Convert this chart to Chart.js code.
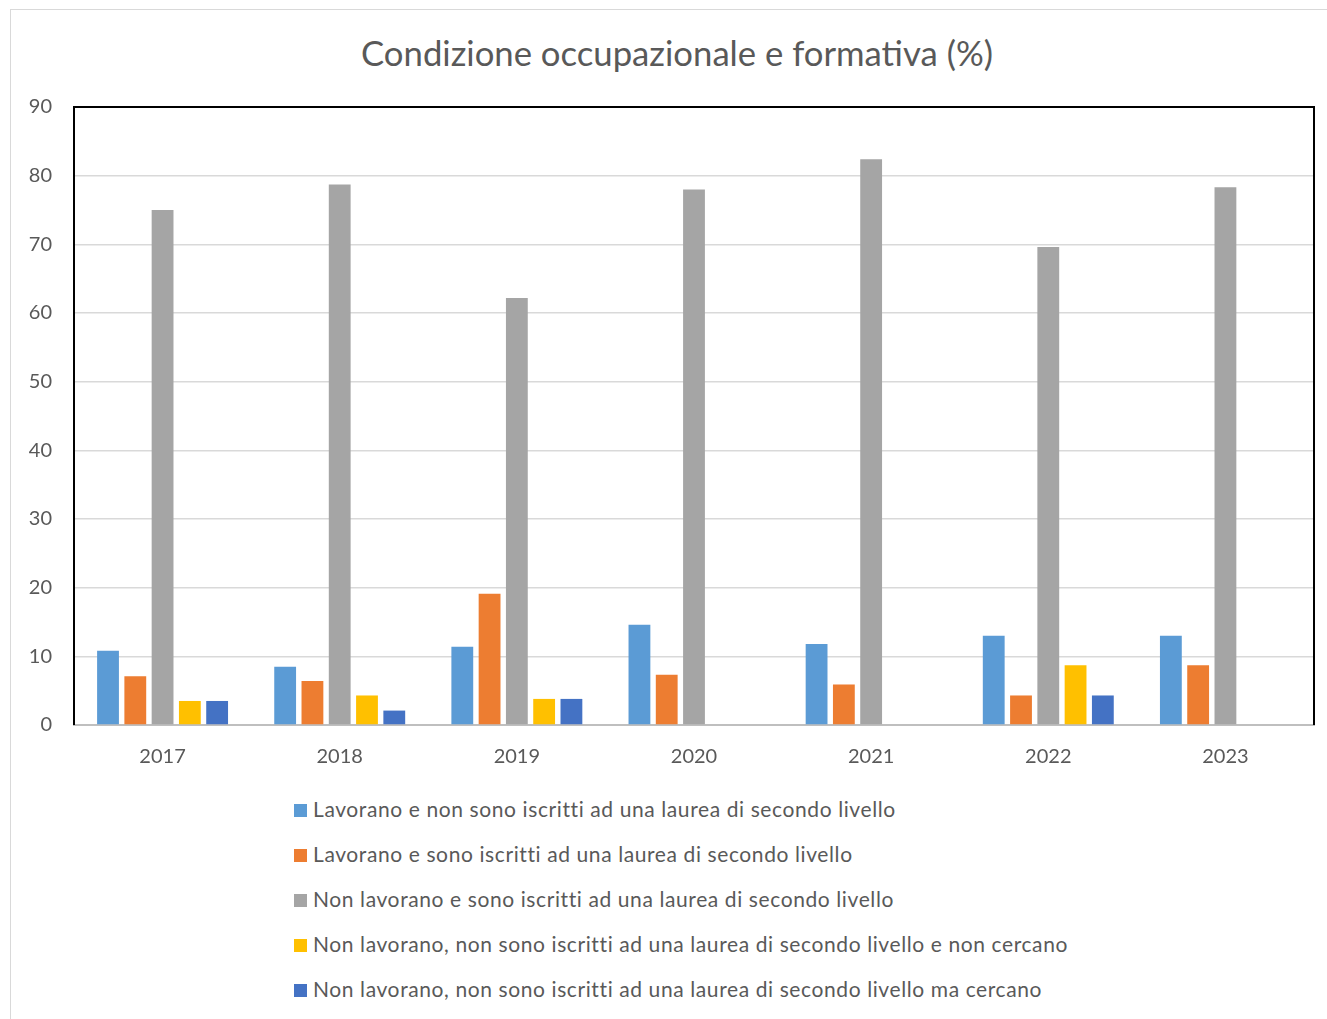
<!DOCTYPE html>
<html>
<head>
<meta charset="utf-8">
<script src="https://cdn.jsdelivr.net/npm/chart.js@4.4.0/dist/chart.umd.min.js"></script>
<style>
  body { margin: 0; background: #fff; }
  #wrap { position: relative; width: 1327px; height: 1019px; overflow: hidden; }
  #frame { position: absolute; left: 10px; top: 9px; width: 1330px; height: 1020px; border: 1px solid #d9d9d9; }
  #title { position: absolute; left: 0; top: 32px; width: 1354px; text-align: center; font-family: Lato, sans-serif; font-size: 34.7px; line-height: 42px; color: #595959; white-space: nowrap; }
  #chartBox { position: absolute; left: 0; top: 0; width: 1327px; height: 790px; }
  #legend { position: absolute; left: 294px; top: 797px; font-family: Lato, sans-serif; font-size: 21px; letter-spacing: 0.6px; color: #595959; }
  #legend div { height: 45px; line-height: 24px; white-space: nowrap; }
  #legend span.box { display: inline-block; width: 13px; height: 13px; margin-right: 6px; vertical-align: 0px; }
</style>
</head>
<body>
<div id="wrap">
  <div id="frame"></div>
  <div id="title">Condizione occupazionale e formativa (%)</div>
  <div id="chartBox"><canvas id="barChart"></canvas></div>
  <div id="legend"></div>
</div>
<script>
// Data
const years = ['2017', '2018', '2019', '2020', '2021', '2022', '2023'];
const seriesNames = [
    'Lavorano e non sono iscritti ad una laurea di secondo livello',
    'Lavorano e sono iscritti ad una laurea di secondo livello',
    'Non lavorano e sono iscritti ad una laurea di secondo livello',
    'Non lavorano, non sono iscritti ad una laurea di secondo livello e non cercano',
    'Non lavorano, non sono iscritti ad una laurea di secondo livello ma cercano'
];
const lavoranoNonIscritti = [10.8, 8.5, 11.4, 14.6, 11.8, 13.0, 13.0];
const lavoranoIscritti = [7.1, 6.4, 19.1, 7.3, 5.9, 4.3, 8.7];
const nonLavoranoIscritti = [75.0, 78.7, 62.2, 78.0, 82.4, 69.6, 78.3];
const nonLavoranoNonCercano = [3.5, 4.3, 3.8, null, null, 8.7, null];
const nonLavoranoCercano = [3.5, 2.1, 3.8, null, null, 4.3, null];
const yTicks = [0, 10, 20, 30, 40, 50, 60, 70, 80, 90];
const seriesColors = ['#5B9BD5', '#ED7D31', '#A5A5A5', '#FFC000', '#4472C4'];

const seriesValues = [lavoranoNonIscritti, lavoranoIscritti, nonLavoranoIscritti, nonLavoranoNonCercano, nonLavoranoCercano];

const textColor = '#595959';
const fontFamily = 'Lato, sans-serif';

// Frame around the plot area: black on top, left and right
const plotFrame = {
    id: 'plotFrame',
    afterDraw(chart) {
        const a = chart.chartArea;
        const ctx = chart.ctx;
        ctx.save();
        ctx.strokeStyle = '#000';
        ctx.lineWidth = 2;
        ctx.beginPath();
        ctx.moveTo(a.left, a.bottom);
        ctx.lineTo(a.left, a.top);
        ctx.lineTo(a.right, a.top);
        ctx.lineTo(a.right, a.bottom);
        ctx.stroke();
        ctx.restore();
    }
};

const ctx = document.getElementById('barChart').getContext('2d');
const barChart = new Chart(ctx, {
    type: 'bar',
    data: {
        labels: years,
        datasets: seriesNames.map((name, i) => ({
            label: name,
            data: seriesValues[i],
            backgroundColor: seriesColors[i],
            borderWidth: 0,
            categoryPercentage: 0.77,
            barPercentage: 0.8
        }))
    },
    options: {
        responsive: true,
        maintainAspectRatio: false,
        animation: false,
        layout: { padding: { left: 20, right: 13, top: 107, bottom: 0 } },
        plugins: {
            legend: { display: false },
            tooltip: { enabled: false },
            title: { display: false }
        },
        scales: {
            x: {
                grid: { display: false, drawTicks: false },
                border: { display: true, color: '#bfbfbf', width: 2 },
                ticks: { color: textColor, font: { family: fontFamily, size: 20 }, padding: 20 },
                afterFit: function (scale) { scale.height = 65; }
            },
            y: {
                min: 0,
                max: 90,
                afterBuildTicks: function (scale) { scale.ticks = yTicks.map(v => ({ value: v })); },
                grid: { color: '#d9d9d9', lineWidth: 1.5, drawTicks: false },
                border: { display: false },
                ticks: { color: textColor, font: { family: fontFamily, size: 20 }, padding: 22 },
                afterFit: function (scale) { scale.width = 54; }
            }
        }
    },
    plugins: [plotFrame]
});

// Vertical legend under the chart
const legendEl = document.getElementById('legend');
barChart.data.datasets.forEach(function (ds) {
    const row = document.createElement('div');
    const box = document.createElement('span');
    box.className = 'box';
    box.style.background = ds.backgroundColor;
    row.appendChild(box);
    row.appendChild(document.createTextNode(ds.label));
    legendEl.appendChild(row);
});
</script>
</body>
</html>
